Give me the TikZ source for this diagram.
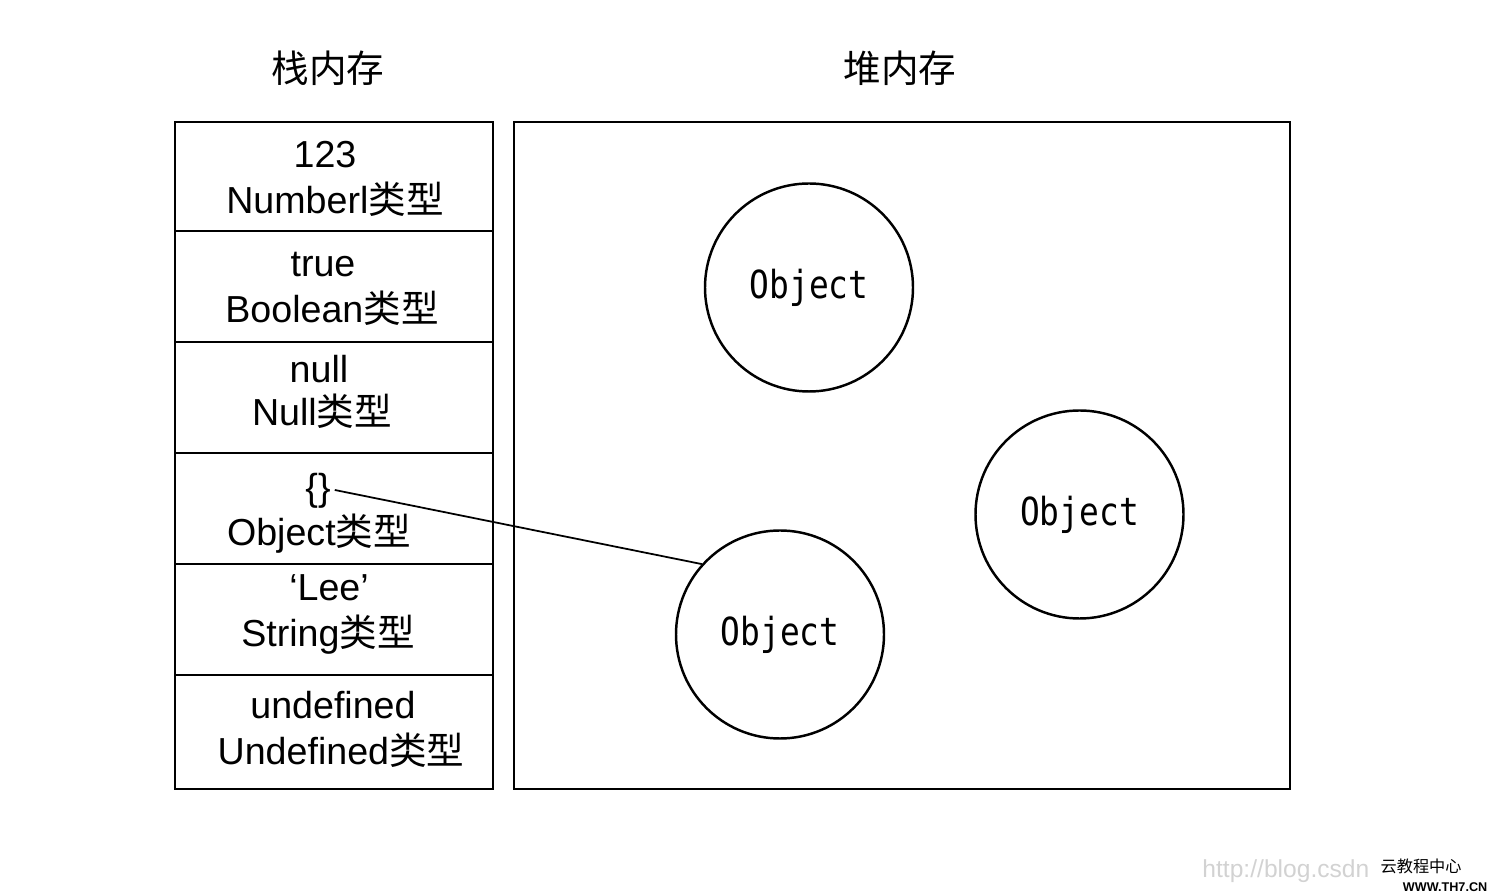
\documentclass[tikz,border=0pt]{standalone}
\usepackage{fontspec}
\setmainfont{Liberation Sans}
\newfontfamily\cjk{Noto Sans CJK SC}
\newfontfamily\objfont[FakeStretch=0.85]{DejaVu Sans Mono}
\newcommand{\leixing}{{\cjk 类型}}

\begin{document}
\begin{tikzpicture}[
        cell/.style={font=\fontsize{10.7}{13}\selectfont, text height=8pt, text depth=2pt, inner sep=1pt},
        title/.style={font=\cjk\fontsize{10.7}{13}\selectfont},
        obj/.style={circle, draw, line width=0.7pt, minimum size=2.08cm, inner sep=0pt, font=\objfont\fontsize{11}{13}\selectfont},
        mark text/.style={inner sep=0pt}
    ]
            \useasboundingbox (0,0) rectangle (14.92,8.92);

            % Titles
            \node[title] (stacktitle) at (3.28,8.24) {栈内存};
            \node[title] (heaptitle) at (9.00,8.24) {堆内存};

            % Draw the stack
            \draw[line width=0.7pt] (1.75,1.03) rectangle (4.93,7.70);
            \draw[line width=0.7pt] (1.75,6.61) -- (4.93,6.61);
            \draw[line width=0.7pt] (1.75,5.50) -- (4.93,5.50);
            \draw[line width=0.7pt] (1.75,4.39) -- (4.93,4.39);
            \draw[line width=0.7pt] (1.75,3.28) -- (4.93,3.28);
            \draw[line width=0.7pt] (1.75,2.17) -- (4.93,2.17);

            % Values and types in the stack
            \node[cell] (v1) at (3.25,7.35) {123};
            \node[cell] (t1) at (3.35,6.89) {Numberl\leixing};
            \node[cell] (v2) at (3.23,6.26) {true};
            \node[cell] (t2) at (3.32,5.80) {Boolean\leixing};
            \node[cell] (v3) at (3.19,5.20) {null};
            \node[cell] (t3) at (3.22,4.77) {Null\leixing};
            \node[cell] (v4) at (3.18,4.02) {\{\}};
            \node[cell] (t4) at (3.19,3.57) {Object\leixing};
            \node[cell] (v5) at (3.29,3.02) {‘Lee’};
            \node[cell] (t5) at (3.28,2.56) {String\leixing};
            \node[cell] (v6) at (3.33,1.84) {undefined};
            \node[cell] (t6) at (3.41,1.38) {Undefined\leixing};

            % Draw the heap
            \draw[line width=0.7pt] (5.14,1.03) rectangle (12.90,7.70);
            \node[obj] (obj1) at (8.09,6.045) {Object};
            \node[obj] (obj2) at (10.795,3.775) {Object};
            \node[obj] (obj3) at (7.80,2.575) {Object};

            % Reference from the stack to the heap
            \draw[line width=0.5pt] (v4.east) -- (obj3.138);

            % Watermark
            \node[mark text, anchor=east, text=gray!35, font=\fontsize{7}{8}\selectfont] (url) at (13.70,0.21) {http://blog.csdn};
            \node[mark text, anchor=west, font=\cjk\fontsize{4.6}{6}\selectfont] (site) at (13.80,0.26) {云教程中心};
            \node[mark text, anchor=east, font=\fontsize{3.6}{4}\selectfont\bfseries] (siteurl) at (14.88,0.05) {WWW.TH7.CN};

        \end{tikzpicture}
\end{document}
